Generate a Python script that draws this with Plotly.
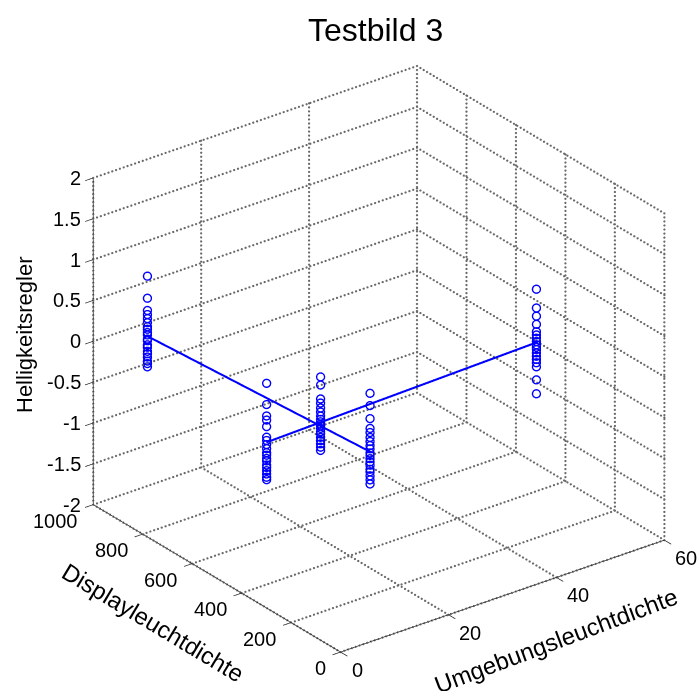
import numpy as np
import plotly.graph_objects as go

# ---------------- data ----------------
x_ticks = [0, 20, 40, 60]
y_ticks = [0, 200, 400, 600, 800, 1000]
z_ticks = [-2, -1.5, -1, -0.5, 0, 0.5, 1, 1.5, 2]
x_tick_text = ["0", "20", "40", "60"]
y_tick_text = ["0", "200", "400", "600", "800", "1000"]
z_tick_text = ["-2", "-1.5", "-1", "-0.5", "0", "0.5", "1", "1.5", "2"]

# cluster positions (Umgebungsleuchtdichte, Displayleuchtdichte)
cluster_umg = [10, 0, 10, 10, 50]
cluster_disp = [1000, 300, 300, 100, 300]
z_A = [0.57, 0.30, 0.15, 0.10, 0.05, 0.0, -0.05, -0.08, -0.12, -0.15, -0.20, -0.22, -0.27, -0.30, -0.35, -0.38, -0.42, -0.47, -0.50, -0.54]
z_B = [0.75, 0.49, 0.35, 0.30, 0.22, 0.09, 0.05, 0.0, -0.05, -0.10, -0.13, -0.17, -0.20, -0.25, -0.28, -0.32, -0.36, -0.40, -0.43]
z_C = [0.60, 0.50, 0.33, 0.28, 0.22, 0.17, 0.12, 0.08, 0.05, 0.02, 0.0, -0.03, -0.07, -0.10, -0.14, -0.18, -0.22, -0.26, -0.30]
z_D = [0.76, 0.61, 0.45, 0.33, 0.28, 0.22, 0.17, 0.12, 0.08, 0.03, 0.0, -0.04, -0.08, -0.12, -0.17, -0.20, -0.25, -0.30, -0.35]
z_E = [0.76, 0.53, 0.43, 0.33, 0.24, 0.20, 0.16, 0.12, 0.08, 0.05, 0.02, -0.02, -0.06, -0.10, -0.14, -0.19, -0.35, -0.52]
cluster_z = [z_A, z_B, z_C, z_D, z_E]

line1_umg = [10, 10]
line1_disp = [1000, 100]
line1_z = [-0.17, 0.04]
line2_umg = [0, 50]
line2_disp = [300, 300]
line2_z = [0.02, 0.10]

# ---------------- geometry / style ----------------
XR = [-1.5, 60.3]
YR = [-28, 1005]
ZR = [-2.02, 2.02]
xmin, xmax = x_ticks[0], x_ticks[-1]
ymin, ymax = y_ticks[0], y_ticks[-1]
zmin, zmax = z_ticks[0], z_ticks[-1]

FONT = "Liberation Sans, Arial, sans-serif"
GRID_COL = "rgb(105,105,105)"
AX_COL = "rgb(40,40,40)"
BLUE = "rgb(0,0,255)"

fig = go.Figure()


def add_segments(segs, color, width):
    xs, ys, zs = [], [], []
    for (a, b) in segs:
        xs += [a[0], b[0], None]
        ys += [a[1], b[1], None]
        zs += [a[2], b[2], None]
    fig.add_trace(go.Scatter3d(x=xs, y=ys, z=zs, mode="lines",
                               line=dict(color=color, width=width),
                               connectgaps=False, hoverinfo="skip", showlegend=False))


# dotted grid (floor, back wall y=ymax, back wall x=xmax) drawn as fine dots
grid = []
for xv in x_ticks:
    grid.append(((xv, ymin, zmin), (xv, ymax, zmin), 75))
    grid.append(((xv, ymax, zmin), (xv, ymax, zmax), 82))
for yv in y_ticks:
    grid.append(((xmin, yv, zmin), (xmax, yv, zmin), 86))
    grid.append(((xmax, yv, zmin), (xmax, yv, zmax), 82))
for zv in z_ticks:
    grid.append(((xmin, ymax, zv), (xmax, ymax, zv), 86))
    grid.append(((xmax, ymin, zv), (xmax, ymax, zv), 75))
gx, gy, gz = [], [], []
for a, b, n in grid:
    t = np.linspace(0, 1, n)
    gx += list(a[0] + (b[0] - a[0]) * t)
    gy += list(a[1] + (b[1] - a[1]) * t)
    gz += list(a[2] + (b[2] - a[2]) * t)
fig.add_trace(go.Scatter3d(x=gx, y=gy, z=gz, mode="markers",
                           marker=dict(symbol="circle", size=1.3, color=GRID_COL,
                                       line=dict(width=0)),
                           hoverinfo="skip", showlegend=False))

# solid axis lines + tick marks
axes = [((xmin, ymin, zmin), (xmax, ymin, zmin)),
        ((xmin, ymin, zmin), (xmin, ymax, zmin)),
        ((xmin, ymax, zmin), (xmin, ymax, zmax))]
for xv in x_ticks:
    axes.append(((xv, ymin, zmin), (xv, YR[0], zmin)))
for yv in y_ticks:
    axes.append(((xmin, yv, zmin), (XR[0], yv, zmin)))
for zv in z_ticks:
    axes.append(((xmin, ymax, zv), (XR[0], ymax, zv)))
add_segments(axes, AX_COL, 1.5)

# data points
px, py, pz = [], [], []
for u, d, zs in zip(cluster_umg, cluster_disp, cluster_z):
    for zv in zs:
        px.append(u)
        py.append(d)
        pz.append(zv)
fig.add_trace(go.Scatter3d(x=px, y=py, z=pz, mode="markers",
                           marker=dict(symbol="circle-open", size=5, color=BLUE,
                                       line=dict(color=BLUE, width=1)),
                           hoverinfo="skip", showlegend=False))

# fitted lines (drawn twice with a tiny vertical offset to get ~2 px width)
for lu, ld, lz in [(line1_umg, line1_disp, line1_z), (line2_umg, line2_disp, line2_z)]:
    for off in (0.0, 0.011):
        fig.add_trace(go.Scatter3d(x=lu, y=ld, z=[v + off for v in lz], mode="lines",
                                   line=dict(color=BLUE, width=2.5),
                                   hoverinfo="skip", showlegend=False))

# tick labels as scene annotations
ann3d = []
tf = dict(family=FONT, size=20, color="black")
for xv, t in zip(x_ticks, x_tick_text):
    ann3d.append(dict(x=xv, y=ymin, z=zmin, text=t, showarrow=False, xanchor="left",
                      yanchor="middle", xshift=9, yshift=-18, font=tf))
for yv, t in zip(y_ticks, y_tick_text):
    ann3d.append(dict(x=xmin, y=yv, z=zmin, text=t, showarrow=False, xanchor="right",
                      yanchor="middle", xshift=-13, yshift=-16, font=tf))
for zv, t in zip(z_ticks, z_tick_text):
    ann3d.append(dict(x=xmin, y=ymax, z=zv, text=t, showarrow=False, xanchor="right",
                      yanchor="middle", xshift=-10, yshift=0, font=tf))

# aspect (orthographic zoom is set through the aspect ratio)
K = 1.178
bx = K * 1.0 / (xmax - xmin)
by = K * 1.003 / (ymax - ymin)
bz = K * 0.901 / (zmax - zmin)
asp = dict(x=bx * (XR[1] - XR[0]), y=by * (YR[1] - YR[0]), z=bz * (ZR[1] - ZR[0]))

view_dir = (-0.540, -0.709, 0.454)
center = dict(x=-0.0524, y=0.0668, z=0.0422)
r = 2.0
eye = dict(x=center["x"] + view_dir[0] * r,
           y=center["y"] + view_dir[1] * r,
           z=center["z"] + view_dir[2] * r)

hidden = dict(showgrid=False, zeroline=False, showline=False, showticklabels=False,
              ticks="", title=dict(text=""), showbackground=False, showspikes=False)

fig.update_layout(
    width=700, height=691,
    margin=dict(l=0, r=0, t=0, b=0),
    paper_bgcolor="white",
    showlegend=False,
    scene=dict(
        domain=dict(x=[0, 1], y=[0, 1]),
        xaxis=dict(range=XR, **hidden),
        yaxis=dict(range=YR, **hidden),
        zaxis=dict(range=ZR, **hidden),
        aspectmode="manual",
        aspectratio=asp,
        camera=dict(eye=eye, up=dict(x=0, y=0, z=1), center=center,
                    projection=dict(type="orthographic")),
        annotations=ann3d,
        dragmode=False,
    ),
    annotations=[
        dict(text="Testbild 3", x=375 / 700, y=1 - 30 / 691, xref="paper", yref="paper",
             showarrow=False, xanchor="center", yanchor="middle",
             font=dict(family=FONT, size=32, color="black")),
        dict(text="Helligkeitsregler", x=24 / 700, y=1 - 335 / 691, xref="paper", yref="paper",
             showarrow=False, textangle=-90, xanchor="center", yanchor="middle",
             font=dict(family=FONT, size=22, color="black")),
        dict(text="Displayleuchtdichte", x=153 / 700, y=1 - 622 / 691, xref="paper", yref="paper",
             showarrow=False, textangle=31, xanchor="center", yanchor="middle",
             font=dict(family=FONT, size=24, color="black")),
        dict(text="Umgebungsleuchtdichte", x=556 / 700, y=1 - 640 / 691, xref="paper", yref="paper",
             showarrow=False, textangle=-20.6, xanchor="center", yanchor="middle",
             font=dict(family=FONT, size=24, color="black")),
    ],
)

fig.write_html("out.html")
